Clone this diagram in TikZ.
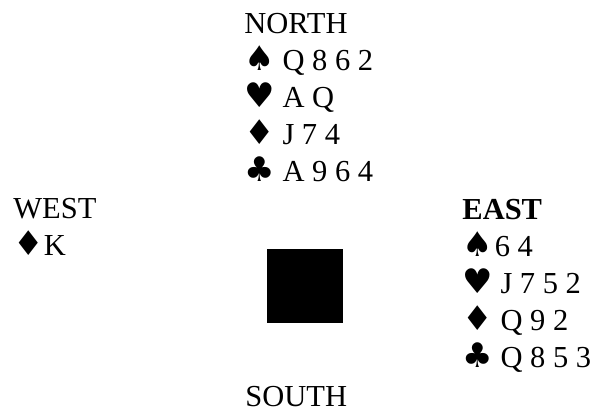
\documentclass[tikz,border=0pt]{standalone}
\usepackage{fontspec}
\setmainfont{Liberation Serif}
\newfontfamily\suitfont{DejaVu Sans}
\newcommand\suit[1]{{\suitfont\fontsize{17}{18}\selectfont #1}}
\begin{document}
\begin{tikzpicture}[x=0.5pt, y=-0.5pt,
    hand/.style={anchor=base west, inner sep=0pt, font=\fontsize{15.25}{18}\selectfont},
    table/.style={fill=black, inner sep=0pt, minimum width=38pt, minimum height=37pt}]
    \useasboundingbox (0,0) rectangle (597,410);
    % --- North hand ---
    \foreach \row [count=\i from 0] in {NORTH, \suit{♠} Q 8 6 2, \suit{♥} A Q,
        \suit{♦} J 7 4, \suit{♣} A 9 6 4}
        \node[hand] (north\i) at (244, 33.3+37*\i) {\row};

    % --- West hand ---
    \node[hand] (west0) at (13, 219) {WEST};
    \node[hand] (west1) at (13, 256) {\suit{♦}K};

    % --- East hand ---
    \node[hand, font=\fontsize{15.25}{18}\selectfont\bfseries] (east0) at (462, 220) {EAST};
    \foreach \row [count=\i from 1] in {\suit{♠}\hspace{1pt}6 4, \suit{♥} J 7 5 2,
        \suit{♦} Q 9 2, \suit{♣} Q 8 5 3}
        \node[hand] (east\i) at (462, 220+36.75*\i) {\row};

    % --- Table and South ---
    \node[table] (table) at (305, 286) {};
    \node[hand] (south) at (245, 406) {SOUTH};
\end{tikzpicture}
\end{document}
